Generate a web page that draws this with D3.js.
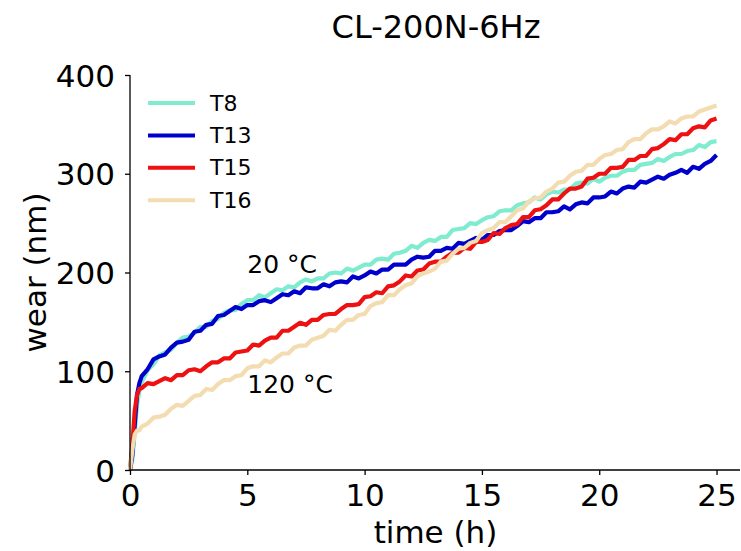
<!DOCTYPE html>
<html>
<head>
<meta charset="utf-8">
<script src="https://cdn.jsdelivr.net/npm/d3@7"></script>
<style>
    body { margin: 0; background: #fff; }
    text { font-family: "DejaVu Sans", sans-serif; fill: #000; }
</style>
</head>
<body>
<svg id="chart" width="741" height="551"></svg>
<script>
// time axis (h)
const times = [0, 0.1, 0.2, 0.3, 0.4, 0.5,
    0.75, 1, 1.25, 1.5, 1.75, 2, 2.25, 2.5, 2.75, 3,
    3.25, 3.5, 3.75, 4, 4.25, 4.5, 4.75, 5,
    5.25, 5.5, 5.75, 6, 6.25, 6.5, 6.75, 7,
    7.25, 7.5, 7.75, 8, 8.25, 8.5, 8.75, 9,
    9.25, 9.5, 9.75, 10, 10.25, 10.5, 10.75, 11,
    11.25, 11.5, 11.75, 12, 12.25, 12.5, 12.75, 13,
    13.25, 13.5, 13.75, 14, 14.25, 14.5, 14.75, 15,
    15.25, 15.5, 15.75, 16, 16.25, 16.5, 16.75, 17,
    17.25, 17.5, 17.75, 18, 18.25, 18.5, 18.75, 19,
    19.25, 19.5, 19.75, 20, 20.25, 20.5, 20.75, 21,
    21.25, 21.5, 21.75, 22, 22.25, 22.5, 22.75, 23,
    23.25, 23.5, 23.75, 24, 24.25, 24.5, 24.75, 25];

// wear (nm)
const wearT8 = [0, 10, 38, 66, 80, 89,
    101, 107, 116, 119, 122, 129, 134, 135, 139, 145,
    145, 151, 153, 159, 162, 162, 168, 172,
    172, 177, 175, 179, 183, 182, 186, 185,
    190, 193, 191, 194, 194, 199, 200, 199,
    204, 202, 205, 208, 208, 213, 214, 213,
    219, 220, 222, 227, 225, 230, 233, 232,
    236, 236, 243, 244, 245, 250, 249, 253,
    256, 257, 262, 263, 263, 268, 270, 271,
    276, 274, 279, 282, 281, 284, 284, 290,
    291, 290, 295, 292, 296, 298, 298, 302,
    304, 304, 309, 310, 311, 315, 313, 317,
    320, 320, 323, 324, 329, 327, 332, 333];

const wearT13 = [0, 15, 45, 76, 88, 95,
    102, 112, 115, 117, 124, 129, 130, 132, 140, 141,
    147, 148, 156, 157, 161, 165, 163, 167,
    167, 171, 172, 170, 174, 178, 177, 181,
    179, 185, 184, 184, 188, 186, 190, 191,
    190, 196, 194, 197, 201, 199, 203, 203,
    208, 208, 208, 213, 216, 215, 216, 222,
    222, 225, 224, 230, 229, 232, 235, 233,
    238, 238, 242, 243, 243, 247, 252, 251,
    255, 255, 261, 261, 262, 267, 264, 269,
    271, 270, 276, 276, 277, 282, 280, 285,
    287, 286, 292, 291, 294, 297, 295, 299,
    301, 304, 301, 307, 305, 310, 313, 319];

const wearT15 = [0, 25, 60, 76, 82, 83,
    88, 87, 90, 93, 91, 96, 96, 101, 102, 100,
    105, 109, 109, 113, 113, 119, 120, 121,
    127, 126, 131, 134, 134, 141, 141, 145,
    149, 147, 152, 152, 157, 158, 158, 163,
    167, 167, 168, 175, 176, 180, 179, 186,
    187, 191, 197, 196, 202, 203, 209, 211,
    211, 216, 220, 220, 225, 224, 231, 231,
    233, 240, 239, 245, 248, 249, 256, 256,
    263, 264, 268, 274, 274, 280, 285, 285,
    287, 295, 296, 300, 300, 306, 306, 307,
    314, 314, 318, 318, 325, 326, 330, 335,
    334, 340, 340, 346, 348, 347, 354, 356];

const wearT16 = [0, 20, 36, 40, 40, 44,
    47, 53, 54, 56, 62, 66, 65, 70, 75, 76,
    82, 81, 87, 91, 91, 95, 96, 103,
    105, 105, 111, 109, 114, 118, 118, 124,
    126, 126, 132, 134, 136, 142, 141, 147,
    152, 152, 157, 158, 166, 169, 170, 177,
    177, 183, 187, 189, 196, 199, 201, 204,
    211, 212, 219, 224, 225, 230, 232, 240,
    243, 245, 251, 251, 257, 263, 265, 272,
    275, 276, 282, 285, 291, 292, 298, 302,
    303, 309, 309, 315, 319, 320, 324, 325,
    332, 335, 335, 341, 345, 345, 348, 353,
    351, 356, 358, 358, 363, 365, 367, 369];

const seriesNames = ["T8", "T13", "T15", "T16"];
const seriesColors = ["#7fecd0", "#0000cd", "#ee1111", "#f3dcb0"];
const xTicks = [0, 5, 10, 15, 20, 25];
const yTicks = [0, 100, 200, 300, 400];
const notes = [
    {label: "20 °C", t: 5.0, v: 199},
    {label: "120 °C", t: 5.0, v: 78}
];

const svg = d3.select("#chart");
const width = 741, height = 551;
const margin = {top: 75, right: 1, bottom: 81, left: 130};

const x = d3.scaleLinear().domain([0, 26]).range([margin.left, width - margin.right]);
const y = d3.scaleLinear().domain([0, 400]).range([height - margin.bottom, margin.top]);

svg.append("rect").attr("width", width).attr("height", height).attr("fill", "#fff");

// lines
const series = [wearT8, wearT13, wearT15, wearT16].map((vals, i) => ({
    name: seriesNames[i],
    color: seriesColors[i],
    points: vals.map((v, j) => [times[j], v])
}));

const line = d3.line().x(d => x(d[0])).y(d => y(d[1]));

svg.append("g")
    .selectAll("path")
    .data(series)
    .join("path")
    .attr("d", d => line(d.points))
    .attr("fill", "none")
    .attr("stroke", d => d.color)
    .attr("stroke-width", 4.2)
    .attr("stroke-linejoin", "round");

// axes
const xAxis = svg.append("g")
    .attr("transform", `translate(0,${y(0)})`)
    .call(d3.axisBottom(x).tickValues(xTicks).tickSize(5).tickPadding(6));
const yAxis = svg.append("g")
    .attr("transform", `translate(${x(0)},0)`)
    .call(d3.axisLeft(y).tickValues(yTicks).tickSize(5).tickPadding(10));

[xAxis, yAxis].forEach(a => {
    a.attr("font-family", null).attr("font-size", null);
    a.selectAll("text").style("font-size", "31px");
    a.selectAll("line").attr("stroke-width", 1.3);
    a.select(".domain").attr("stroke-width", 1.3);
});
// matplotlib-style spines: no end caps
xAxis.select(".domain").attr("d", `M${x(0)},0H${width - margin.right}`);
yAxis.select(".domain").attr("d", `M0,${y(400)}V${y(0)}`);
xAxis.selectAll("text").attr("dy", null).attr("y", 36);
yAxis.selectAll("text").attr("dy", "0.36em");

// labels
svg.append("text")
    .attr("x", 436).attr("y", 38)
    .attr("text-anchor", "middle")
    .style("font-size", "32px")
    .text("CL-200N-6Hz");

svg.append("text")
    .attr("x", (x(0) + width) / 2).attr("y", 543)
    .attr("text-anchor", "middle")
    .style("font-size", "31px")
    .text("time (h)");

svg.append("text")
    .attr("transform", `translate(46,${(y(0) + y(400)) / 2}) rotate(-90)`)
    .attr("text-anchor", "middle")
    .style("font-size", "31px")
    .text("wear (nm)");

// annotations
svg.append("g")
    .selectAll("text")
    .data(notes)
    .join("text")
    .attr("x", d => x(d.t))
    .attr("y", d => y(d.v))
    .style("font-size", "25px")
    .text(d => d.label);

// legend
const legend = svg.append("g").attr("transform", "translate(148,103)");
const item = legend.selectAll("g")
    .data(series)
    .join("g")
    .attr("transform", (d, i) => `translate(0,${i * 32.4})`);
item.append("line")
    .attr("x1", 0).attr("x2", 47)
    .attr("stroke", d => d.color)
    .attr("stroke-width", 4);
item.append("text")
    .attr("x", 62).attr("y", 7.5)
    .style("font-size", "22px")
    .text(d => d.name);
</script>
</body>
</html>
